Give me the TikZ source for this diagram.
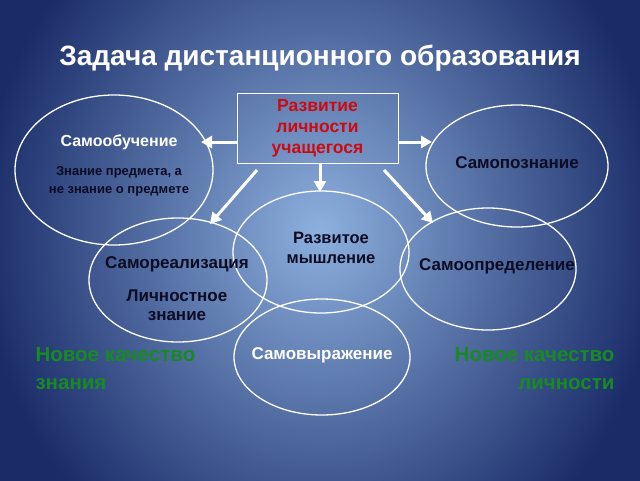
\documentclass[tikz,border=0pt]{standalone}
\usepackage{fontspec}
\setmainfont{Liberation Sans}
\usetikzlibrary{arrows.meta}
\definecolor{bgin}{HTML}{8DB0DE}
\definecolor{bgout}{HTML}{1A2C68}
\definecolor{dtext}{HTML}{0C0C24}
\definecolor{rtext}{HTML}{CC0A10}
\definecolor{gtext}{HTML}{178A22}
\tikzset{
  oval/.style={draw=white, line width=1.3pt},
  lab/.style={font=\bfseries\fontsize{17}{20}\selectfont, text=dtext, align=center},
  wlab/.style={lab, text=white},
  small/.style={font=\bfseries\fontsize{13}{18}\selectfont, text=dtext, align=center},
  green/.style={font=\bfseries\fontsize{20.5}{28}\selectfont, text=gtext},
  arr/.style={draw=white, line width=3pt, -{Triangle[width=12pt,length=11pt]}},
}
\begin{document}
\begin{tikzpicture}[x=1pt,y=-1pt]
\useasboundingbox (0,0) rectangle (640,480);
\shade[inner color=bgin, outer color=bgout] (-20,-150) rectangle (660,610);
\path[use as bounding box] (0,0) rectangle (640,480);
\node[font=\bfseries\fontsize{28}{32}\selectfont, text=white] (title) at (320,58) {Задача дистанционного образования};
% ellipses
\draw[oval] (114,170) ellipse [x radius=99, y radius=75];
\draw[oval] (517,166) ellipse [x radius=91, y radius=61];
\draw[oval] (321,252) ellipse [x radius=88, y radius=61];
\draw[oval] (178,280) ellipse [x radius=89, y radius=62];
\draw[oval] (488,269) ellipse [x radius=88, y radius=61];
\draw[oval] (322,357) ellipse [x radius=88, y radius=58];
% box
\node[draw=white, line width=1pt, minimum width=161pt, minimum height=70pt, inner sep=0pt, font=\bfseries\fontsize{17.5}{21}\selectfont, text=rtext, align=center] (box) at (317.5,128) {Развитие\\личности\\учащегося};
\coordinate (l1) at (box.west |- 0,142);
\coordinate (l2) at (201,142);
\coordinate (r1) at (box.east |- 0,142);
\coordinate (r2) at (432,142);
\coordinate (d1) at (320,163);
\coordinate (d2) at (320,192);
\coordinate (dl1) at (257,170);
\coordinate (dl2) at (210,224);
\coordinate (dr1) at (384,170);
\coordinate (dr2) at (433,223);
\draw[arr] (l1) -- (l2);
\draw[arr] (r1) -- (r2);
\draw[arr] (d1) -- (d2);
\draw[arr] (dl1) -- (dl2);
\draw[arr] (dr1) -- (dr2);
% labels
\node[wlab, font=\bfseries\fontsize{16}{20}\selectfont] (a) at (119,142) {Самообучение};
\node[small] (a2) at (119,181) {Знание предмета, а\\не знание о предмете};
\node[lab] (b) at (517,163) {Самопознание};
\node[lab, font=\bfseries\fontsize{16.5}{20}\selectfont] (c) at (331,248) {Развитое\\мышление};
\node[lab] (d) at (177,264) {Самореализация};
\node[lab, font=\bfseries\fontsize{17}{19}\selectfont] (d2) at (177,305) {Личностное\\знание};
\node[lab] (e) at (497,266) {Самоопределение};
\node[wlab] (f) at (322,355) {Самовыражение};
\node[green, anchor=west, align=left] (g) at (32,369) {Новое качество\\знания};
\node[green, anchor=east, align=right] (h) at (618,369) {Новое качество\\личности};
\end{tikzpicture}
\end{document}
